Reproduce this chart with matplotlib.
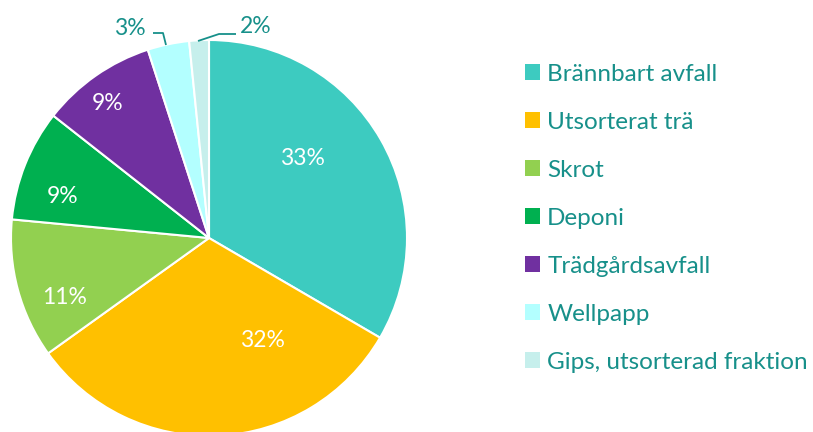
import matplotlib
matplotlib.use("Agg")
import matplotlib.pyplot as plt
from matplotlib.patches import Patch
import numpy as np

categories = ["Brännbart avfall", "Utsorterat trä", "Skrot", "Deponi",
              "Trädgårdsavfall", "Wellpapp", "Gips, utsorterad fraktion"]
values = [33.4, 31.7, 11.4, 9.1, 9.4, 3.4, 1.6]
labels = ["33%", "32%", "11%", "9%", "9%", "3%", "2%"]
colors = ["#3DCBC0", "#FFC000", "#92D050", "#00B050", "#7030A0", "#B3FFFF", "#C6EFEC"]

# label positions (in units of pie radius, relative to centre)
label_pos = [(0.47, 0.40), (0.27, -0.52), (-0.73, -0.30), (-0.74, 0.21),
             (-0.51, 0.68), (-0.40, 1.06), (0.235, 1.07)]
inside = [True, True, True, True, True, False, False]

TEXT = "#17908A"
FONT = ["Lato", "DejaVu Sans"]

W, H = 813, 432
fig = plt.figure(figsize=(W / 100, H / 100), dpi=100)
cx, cy, R = 209, 432 - 238, 198
ax = fig.add_axes([(cx - R) / W, (cy - R) / H, 2 * R / W, 2 * R / H])
ax.set_xlim(-1, 1)
ax.set_ylim(-1, 1)
ax.axis("off")

wedges, _ = ax.pie(values, colors=colors, startangle=90, counterclock=False,
                   radius=1, center=(0, 0),
                   wedgeprops=dict(edgecolor="white", linewidth=1.5))
ax.set_xlim(-1, 1)
ax.set_ylim(-1, 1)

for lab, (x, y), ins in zip(labels, label_pos, inside):
    ax.text(x, y, lab, ha="center", va="center", fontsize=16.5,
            color="white" if ins else TEXT, family=FONT)

# leader lines for small slices
def px(xp, yp):
    return ((xp - 209) / R, (238 - yp) / R)

l1 = [px(153, 33), px(163, 33), px(166, 45)]
l2 = [px(198, 41), px(219, 34), px(236, 34)]
for line in (l1, l2):
    xs, ys = zip(*line)
    ax.plot(xs, ys, color=TEXT, lw=1.3, solid_capstyle="butt", clip_on=False)

handles = [Patch(facecolor=c, edgecolor="none") for c in colors]
leg = fig.legend(handles, categories, loc="upper left",
                 bbox_to_anchor=(503 / W, 1 - 42 / H), frameon=False,
                 prop=dict(family=FONT, size=17.5), labelcolor=TEXT,
                 handlelength=0.62, handleheight=0.62, handletextpad=0.3,
                 labelspacing=1.11)

fig.savefig("out.png", dpi=100)
